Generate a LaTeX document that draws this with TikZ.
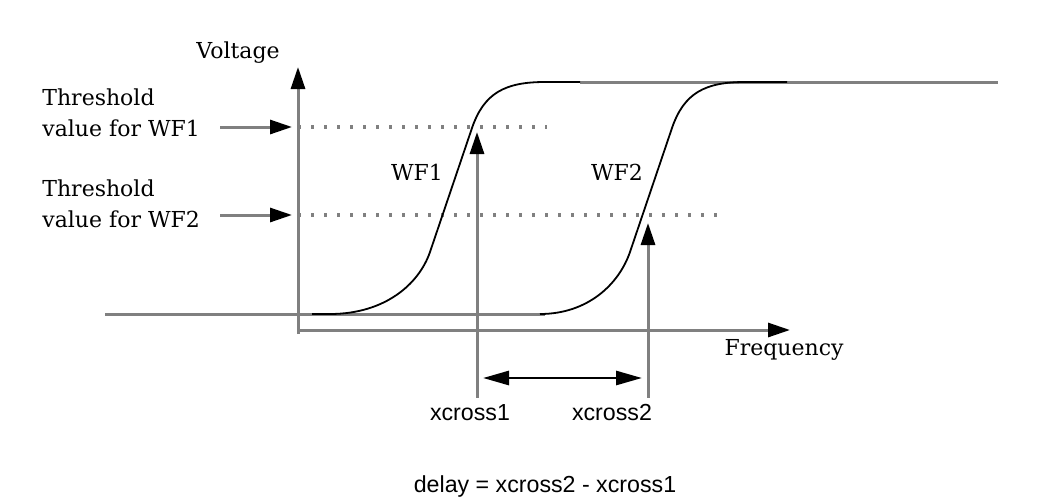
\documentclass[tikz,border=0pt]{standalone}
\usepackage{fontspec}
\setmainfont{DejaVu Serif}
\setsansfont{Liberation Sans}
\usetikzlibrary{arrows.meta}

\begin{document}
\begin{tikzpicture}[x=0.5pt,y=-0.5pt,
  axis/.style={draw=wire,line width=1.5pt},
  wave/.style={line width=0.9pt,line join=round},
  level/.style={draw=wire,line width=1.6pt,dash pattern=on 1.6pt off 4.9pt},
  tip/.style={-{Triangle[length=11pt,width=7pt,black]}},
  serif/.style={font=\fontsize{11}{15.5}\selectfont},
  sans/.style={font=\sffamily\fontsize{11.6}{14}\selectfont}]
  \definecolor{wire}{gray}{0.5}
  \useasboundingbox (0,0) rectangle (1062,504);

  \coordinate (orig) at (298,330);
  \coordinate (vbot) at (298,334);
  \coordinate (vtop) at (298,67);
  \coordinate (ftip) at (790,330);
  \coordinate (lev1) at (298,127);
  \coordinate (lev1e) at (547,127);
  \coordinate (lev2) at (298,215);
  \coordinate (lev2e) at (725,215);
  \coordinate (hit1) at (477,132);
  \coordinate (hit2) at (648,223);
  \coordinate (d1) at (483,378);
  \coordinate (d2) at (642,378);

  \node[serif] (volt) at (238,53) {Voltage};
  \node[serif] (freq) at (784,350) {Frequency};
  \node[serif,align=left,anchor=west,inner sep=0pt] (thr1) at (42,113)
    {Threshold\\value for WF1};
  \node[serif,align=left,anchor=west,inner sep=0pt] (thr2) at (42,204)
    {Threshold\\value for WF2};
  \node[serif] (wf1) at (417,172) {WF1};
  \node[serif] (wf2) at (617,172) {WF2};
  \node[sans] (xc1) at (470,413) {xcross1};
  \node[sans] (xc2) at (612,413) {xcross2};
  \node[sans] (dly) at (545,486) {delay = xcross2 - xcross1};

  \draw[level] (lev1) -- (lev1e);
  \draw[level] (lev2) -- (lev2e);
  \draw[axis] (105,314) -- (545,314);
  \draw[axis] (580,82) -- (998,82);
  \draw[wave] (312,314) -- (330,314) .. controls (385,314) and (419,284) .. (430,252)
    -- (472,128) .. controls (484,93) and (505,82) .. (545,82) -- (580,82);
  \draw[wave] (540,314) .. controls (588,314) and (619,284) .. (630,252)
    -- (672,128) .. controls (684,93) and (705,82) .. (745,82) -- (787,82);

  \draw[axis,tip] (vbot) -- (vtop);
  \draw[axis,tip] (orig) -- (ftip);
  \draw[axis,tip,shorten >=3pt] ([xshift=10pt]thr1.east |- lev1) -- (lev1);
  \draw[axis,tip,shorten >=3pt] ([xshift=10pt]thr2.east |- lev2) -- (lev2);
  \draw[axis,tip] (xc1.north -| hit1) -- (hit1);
  \draw[axis,tip] (xc2.north -| hit2) -- (hit2);
  \draw[line width=1.4pt,{Triangle[length=13pt,width=7pt]}-{Triangle[length=13pt,width=7pt]}]
    (d1) -- (d2);
\end{tikzpicture}
\end{document}
